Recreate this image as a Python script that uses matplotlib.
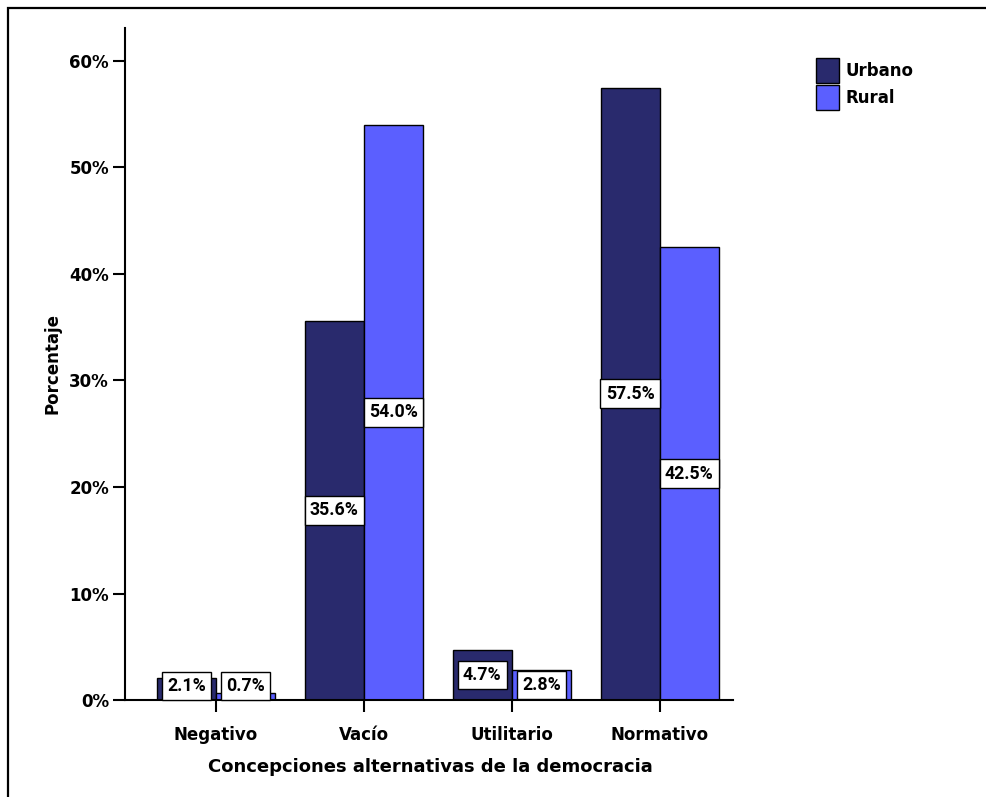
import matplotlib.pyplot as plt
from matplotlib.patches import Rectangle, Patch
import numpy as np

# data
categories = ["Negativo", "Vacío", "Utilitario", "Normativo"]
urbano = [2.1, 35.6, 4.7, 57.5]
rural = [0.7, 54.0, 2.8, 42.5]
series_names = ["Urbano", "Rural"]
y_ticks = [0, 10, 20, 30, 40, 50, 60]

dark = "#292a6d"
light = "#5b5fff"
bold = "DejaVu Sans"


def main():
    fig = plt.figure(figsize=(9.86, 7.97), dpi=100)
    ax = fig.add_axes([0.1268, 0.1217, 0.6166, 0.8432])

    x = np.arange(len(categories))
    w = 0.4
    ax.bar(x - w / 2, urbano, width=w, color=dark, edgecolor="black", linewidth=1, zorder=2)
    ax.bar(x + w / 2, rural, width=w, color=light, edgecolor="black", linewidth=1, zorder=2)

    # value labels in white boxes, centred on half the bar height
    for offset, values in ((-w / 2, urbano), (w / 2, rural)):
        for xi, v in zip(x, values):
            ax.text(xi + offset, max(v / 2, 1.3), f"{v:.1f}%", ha="center", va="center",
                    fontsize=12.8, fontweight="bold", family=["Roboto", bold], zorder=3,
                    bbox=dict(boxstyle="square,pad=0.3", facecolor="white",
                              edgecolor="black", linewidth=1))

    ax.set_xlim(-0.615, 3.495)
    ax.set_ylim(0, 63.1)
    ax.set_xticks(x)
    ax.set_xticklabels(categories, fontsize=12, fontweight="bold", family=bold)
    ax.set_yticks(y_ticks)
    ax.set_yticklabels([f"{t}%" for t in y_ticks], fontsize=12, fontweight="bold", family=bold)
    ax.tick_params(axis="both", direction="out", length=8.6, width=1.5, color="black")
    ax.tick_params(axis="x", pad=10)
    ax.tick_params(axis="y", pad=3)

    for side in ("top", "right"):
        ax.spines[side].set_visible(False)
    for side in ("left", "bottom"):
        ax.spines[side].set_linewidth(1.5)

    ax.set_xlabel("Concepciones alternativas de la democracia", fontsize=13,
                  fontweight="bold", family=bold)
    ax.xaxis.set_label_coords(0.502, -0.086)
    ax.set_ylabel("Porcentaje", fontsize=12, fontweight="bold", family=bold)
    ax.yaxis.set_label_coords(-0.12, 0.5)
    ax.yaxis.label.set_va("center")

    handles = [Patch(facecolor=dark, edgecolor="black", linewidth=1),
               Patch(facecolor=light, edgecolor="black", linewidth=1)]
    fig.legend(handles, series_names, loc="upper left", bbox_to_anchor=(0.8276, 0.9272),
               frameon=False, borderpad=0, borderaxespad=0, handlelength=1.4,
               handleheight=1.9, handletextpad=0.38, labelspacing=0.15,
               prop=dict(family=bold, weight="bold", size=12))

    # outer frame (only left and top edges visible in the original)
    fig.add_artist(Rectangle((0.0086, -0.1), 1.2, 1.09, transform=fig.transFigure,
                             fill=False, edgecolor="black", linewidth=1.6))

    fig.savefig("out.png", dpi=100)


if __name__ == "__main__":
    main()
